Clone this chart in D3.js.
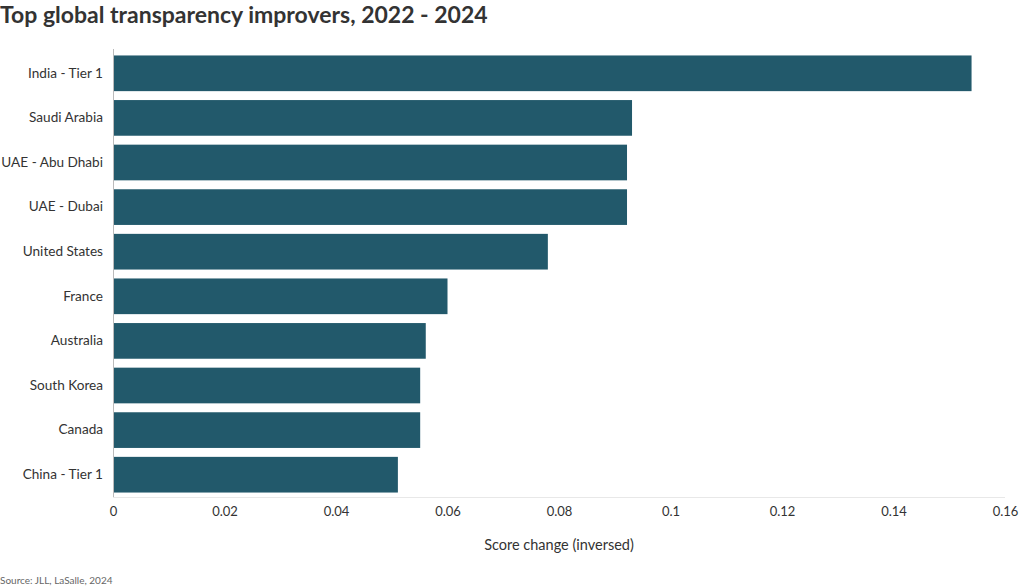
<!DOCTYPE html>
<html><head><meta charset="utf-8">
<script src="https://cdn.jsdelivr.net/npm/d3@7"></script>
<style>body{margin:0;background:#fff;} text{font-family:Lato, "Open Sans", sans-serif;}</style>
</head><body>
<svg id="c" width="1020" height="588"></svg>
<script>
const categories = ["India - Tier 1","Saudi Arabia","UAE - Abu Dhabi","UAE - Dubai","United States","France","Australia","South Korea","Canada","China - Tier 1"];
const values = [0.154,0.0931,0.0922,0.0922,0.078,0.060,0.0561,0.0551,0.0551,0.0511];
const xTicks = [0,0.02,0.04,0.06,0.08,0.1,0.12,0.14,0.16];
const tickLabels = ["0","0.02","0.04","0.06","0.08","0.1","0.12","0.14","0.16"];

const svg = d3.select("#c");
const m = {l:113, r:1005, t:51, b:497};
const x = d3.scaleLinear().domain([0,0.16]).range([m.l, m.r]);
const y = d3.scaleBand().domain(categories).range([m.t, m.b]).paddingInner(0.2).paddingOuter(0.1);

svg.append("text").attr("x",0).attr("y",23).attr("font-size",23).attr("font-weight",700).attr("fill","#333")
  .text("Top global transparency improvers, 2022 - 2024");

svg.append("line").attr("x1",m.l).attr("x2",m.r).attr("y1",m.b+0.5).attr("y2",m.b+0.5).attr("stroke","#e8e8e8");

svg.selectAll("rect.bar").data(categories).join("rect").attr("class","bar")
  .attr("x", x(0)).attr("y", d=>y(d)).attr("height", y.bandwidth())
  .attr("width", (d,i)=>x(values[i])-x(0)).attr("fill","#22596b");

svg.append("line").attr("x1",m.l+0.5).attr("x2",m.l+0.5).attr("y1",m.t-2).attr("y2",m.b).attr("stroke","#bbb");

const xa = d3.axisBottom(x).tickValues(xTicks).tickFormat((d,i)=>tickLabels[i]).tickSize(0).tickPadding(10);
const gx = svg.append("g").attr("transform",`translate(0,${m.b})`).call(xa);
gx.select(".domain").remove();
gx.selectAll("text").attr("font-size",13).attr("fill","#333").style("font-family","Lato, sans-serif");

const ya = d3.axisLeft(y).tickSize(0).tickPadding(10);
const gy = svg.append("g").attr("transform",`translate(${m.l},0)`).call(ya);
gy.select(".domain").remove();
gy.selectAll("text").attr("font-size",13.6).attr("fill","#333").style("font-family","Lato, sans-serif");

svg.append("text").attr("x",(m.l+m.r)/2).attr("y",550).attr("text-anchor","middle").attr("font-size",14.5).attr("fill","#333")
  .text("Score change (inversed)");
svg.append("text").attr("x",0).attr("y",584).attr("font-size",10).attr("fill","#666").text("Source: JLL, LaSalle, 2024");
</script>
</body></html>
